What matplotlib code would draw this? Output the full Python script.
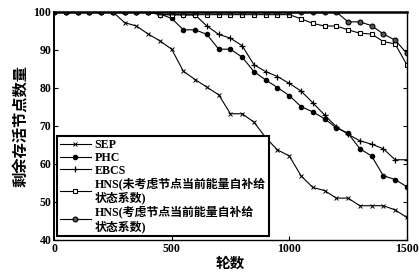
import matplotlib
matplotlib.use("Agg")
import matplotlib.pyplot as plt

rounds = list(range(0, 1501, 50))
sep = [100, 100, 100, 100, 100, 100, 97.2, 96.3, 94.2, 92.4, 90.2, 84.4, 82.2, 80.2, 78.2, 73.2,
       73.2, 71.0, 66.9, 63.7, 62.1, 56.9, 53.8, 53.0, 51.0, 51.0, 49.0, 49.0, 49.0, 47.9, 45.9]
phc = [100, 100, 100, 100, 100, 100, 100, 100, 100, 99.5, 98.3, 95.3, 95.3, 94.1, 90.2, 90.2,
       88.1, 84.3, 82.1, 80.1, 78.0, 75.1, 73.7, 71.9, 69.5, 68.1, 64.0, 62.1, 56.9, 55.9, 54.0]
ebcs = [100, 100, 100, 100, 100, 100, 100, 100, 100, 99.3, 99.3, 99.2, 99.2, 96.3, 94.1, 93.1,
        91.1, 86.1, 84.3, 83.0, 81.2, 79.2, 76.1, 72.9, 69.8, 67.8, 66.1, 65.2, 64.0, 61.1, 61.1]
hns1 = [100, 100, 100, 100, 100, 100, 100, 100, 100, 99.3, 99.3, 99.3, 99.3, 99.3, 99.3, 99.3,
        99.3, 99.3, 99.3, 99.3, 99.3, 98.2, 97.0, 96.3, 96.3, 95.3, 94.4, 94.2, 92.2, 91.6, 86.1]
hns2 = [100] * 25 + [97.4, 97.4, 96.4, 94.2, 92.6, 89.1]

labels = ["SEP", "PHC", "EBCS",
          "HNS(未考虑节点当前能量自补给\n状态系数)",
          "HNS(考虑节点当前能量自补给\n状态系数)"]
xticks = [0, 500, 1000, 1500]
yticks = [40, 50, 60, 70, 80, 90, 100]

plt.rcParams['font.family'] = ['Liberation Serif', 'Noto Sans CJK SC', 'DejaVu Sans']
plt.rcParams['font.weight'] = 'bold'

fig = plt.figure(figsize=(4.19, 2.72), dpi=100)
ax = fig.add_axes([0.129, 0.118, 0.842, 0.838])

lw = 0.8
ax.plot(rounds, sep, color='black', lw=lw, marker='x', ms=2.5, mew=0.7, label=labels[0])
ax.plot(rounds, phc, color='black', lw=lw, marker='o', ms=3, label=labels[1])
ax.plot(rounds, ebcs, color='black', lw=lw, marker='+', ms=4, mew=0.9, label=labels[2])
ax.plot(rounds, hns1, color='black', lw=lw, marker='s', ms=3, mfc='white', mew=0.8, label=labels[3])
ax.plot(rounds, hns2, color='black', lw=lw, marker='o', ms=3.5, mfc='#555555', mew=0.8, label=labels[4])

ax.set_xlim(0, 1500)
ax.set_ylim(40, 100)
ax.set_xticks(xticks)
ax.set_yticks(yticks)
ax.tick_params(direction='in', length=3, width=0.8, labelsize=8.5, right=True, top=False, pad=2)
for s in ax.spines.values():
    s.set_linewidth(1.0)
ax.spines['top'].set_linewidth(1.8)
ax.spines['left'].set_linewidth(1.4)

ax.set_xlabel("轮数", fontsize=10.5, fontweight='bold', labelpad=2)
ax.set_ylabel("剩余存活节点数量", fontsize=11, fontweight='bold', labelpad=3)

leg = ax.legend(loc='lower left', bbox_to_anchor=(0.008, 0.018), borderaxespad=0,
                fontsize=8.6, handlelength=2.6, handletextpad=0.3, labelspacing=0.05,
                borderpad=0.25, fancybox=False, framealpha=1, edgecolor='black')
leg.get_frame().set_linewidth(1.5)

fig.savefig("out.png", dpi=100)
